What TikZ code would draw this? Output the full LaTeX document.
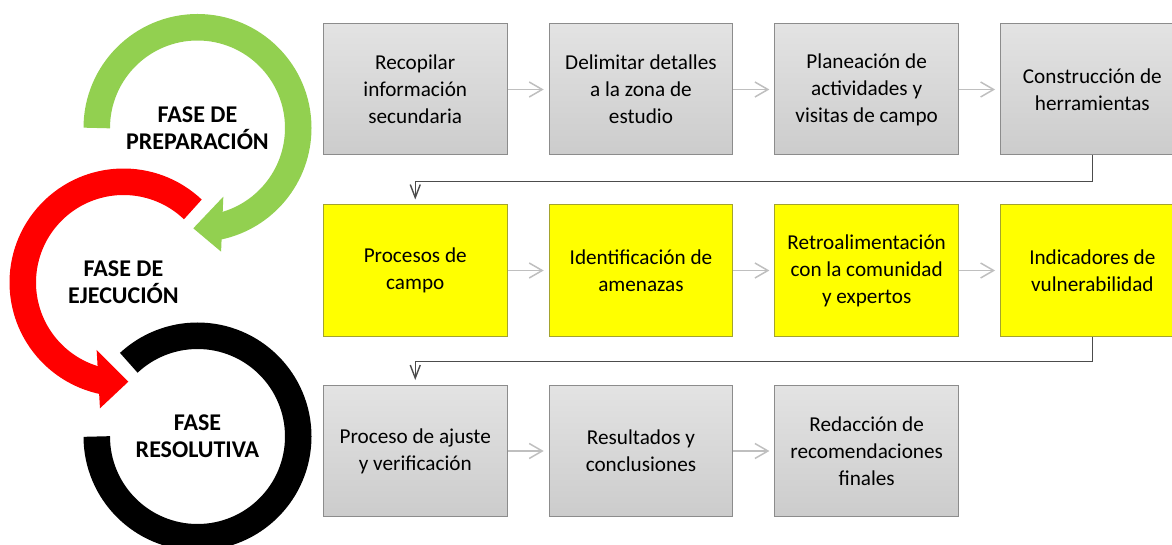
\documentclass[tikz,border=0pt]{standalone}
\usepackage{fontspec}
\setmainfont{Carlito}
\usetikzlibrary{arrows.meta}
\usetikzlibrary{calc}
\definecolor{phasegreen}{HTML}{92D050}
\definecolor{phasered}{HTML}{FF0000}
\definecolor{boxyellow}{HTML}{FFFF00}
\definecolor{yellowline}{HTML}{A3A32E}
\tikzset{flowbox/.style={minimum width=183.5pt, minimum height=131pt, inner sep=0pt,
    align=center, line width=1pt, font=\fontsize{21.2}{27}\selectfont}}
\tikzset{graybox/.style={flowbox, draw=gray!90, top color=gray!22, bottom color=gray!40}}
\tikzset{yellowbox/.style={flowbox, draw=yellowline, fill=boxyellow}}
\tikzset{flow/.style={-{Straight Barb[length=13pt,width=15pt]}, draw=black!25,
    line width=1.5pt, shorten >=5pt}}
\tikzset{link/.style={-{Straight Barb[length=13pt,width=10pt]}, draw=black!70,
    line width=1.4pt, shorten >=5pt}}
\tikzset{band/.style={line width=26.5pt}}
\tikzset{phaselabel/.style={align=center, inner sep=0pt,
    font=\bfseries\fontsize{24}{27}\selectfont}}
\newcommand{\bandr}{100.75pt}

\begin{document}
\begin{tikzpicture}[x=1pt, y=1pt]
        \useasboundingbox (0,0) rectangle (1172,-545);
        \clip (0,0) rectangle (1172,-545);

        \coordinate (gc) at (197.5,-128);
        \coordinate (rc) at (123.5,-282.5);
        \coordinate (kc) at (197.5,-436.5);

        \draw[band, phasegreen] ($(gc)+(180:\bandr)$)
            arc[start angle=180, end angle=-78.5, radius=\bandr];
        \fill[phasegreen] ($(gc)+(-69.4:73.4pt)$) -- ($(gc)+(-92.4:100.4pt)$)
            -- ($(gc)+(-79.2:125.9pt)$) -- cycle;
        \draw[band, phasered] ($(rc)+(46.5:\bandr)$)
            arc[start angle=46.5, end angle=258, radius=\bandr];
        \fill[phasered] ($(rc)+(-111.7:72.6pt)$) -- ($(rc)+(-87.2:99.3pt)$)
            -- ($(rc)+(-100.6:128pt)$) -- cycle;
        \draw[band, black] ($(kc)+(180:\bandr)$)
            arc[start angle=-180, end angle=133, radius=\bandr];

        \node[phaselabel] (prep) at (gc) {FASE DE\\PREPARACIÓN};
        \node[phaselabel] (ejec) at (rc) {FASE DE\\EJECUCIÓN};
        \node[phaselabel] (reso) at (kc) {FASE\\RESOLUTIVA};

        \node[graybox] (recop) at (415.25,-89.5) {Recopilar\\información\\secundaria};
        \node[graybox] (delim) at (640.95,-89.5) {Delimitar detalles\\a la zona de\\estudio};
        \node[graybox] (plan) at (866.65,-89.5) {Planeación de\\actividades y\\visitas de campo};
        \node[graybox] (herr) at (1092.35,-89.5) {Construcción de\\herramientas};

        \node[yellowbox] (campo) at (415.25,-270.5) {Procesos de\\campo};
        \node[yellowbox] (amen) at (640.95,-270.5) {Identificación de\\amenazas};
        \node[yellowbox] (retro) at (866.65,-270.5) {Retroalimentación\\con la comunidad\\y expertos};
        \node[yellowbox] (vuln) at (1092.35,-270.5) {Indicadores de\\vulnerabilidad};

        \node[graybox] (ajus) at (415.25,-451) {Proceso de ajuste\\y verificación};
        \node[graybox] (resul) at (640.95,-451) {Resultados y\\conclusiones};
        \node[graybox] (redac) at (866.65,-451) {Redacción de\\recomendaciones\\finales};

        \draw[flow] (recop) -- (delim);
        \draw[flow] (delim) -- (plan);
        \draw[flow] (plan) -- (herr);
        \draw[link] (herr.south) -- ++(0,-26) -| (campo);

        \draw[flow] (campo) -- (amen);
        \draw[flow] (amen) -- (retro);
        \draw[flow] (retro) -- (vuln);
        \draw[link] (vuln.south) -- ++(0,-25) -| (ajus);

        \draw[flow] (ajus) -- (resul);
        \draw[flow] (resul) -- (redac);
    \end{tikzpicture}
\end{document}
